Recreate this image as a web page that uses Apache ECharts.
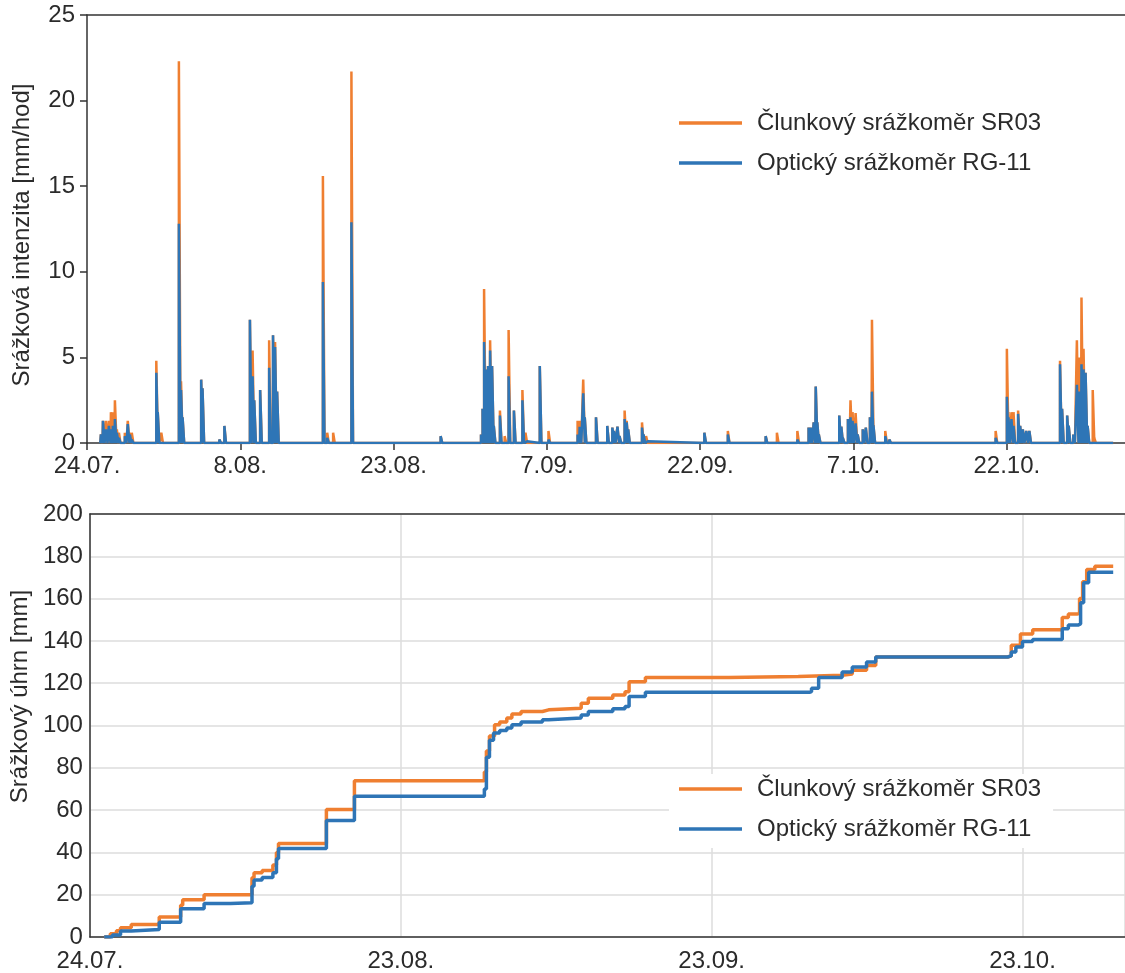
<!DOCTYPE html>
<html><head><meta charset="utf-8">
<script src="https://cdn.jsdelivr.net/npm/echarts@6/dist/echarts.min.js"></script>
<style>html,body{margin:0;padding:0;background:#fff}#c{width:1125px;height:973px}</style>
</head><body><div id="c"></div>
<script>
const seriesNames = ['Člunkový srážkoměr SR03', 'Optický srážkoměr RG-11'];
const topTickLabels = ['24.07.', '8.08.', '23.08.', '7.09.', '22.09.', '7.10.', '22.10.'];
const bottomTickLabels = ['24.07.', '23.08.', '23.09.', '23.10.'];
const topAxisTitle = 'Srážková intenzita [mm/hod]';
const bottomAxisTitle = 'Srážkový úhrn [mm]';

// rain intensity spikes: day offset from 24.07., values [mm/hod]
const spikeDays = [1.36, 1.56, 1.85, 2.14, 2.34, 2.53, 2.73, 2.92, 3.12, 3.70, 3.99, 4.19, 4.38,
  6.78, 6.92, 7.27, 8.99, 9.2, 9.35, 11.17, 11.3, 12.95, 13.44, 15.94, 16.2, 16.36, 16.94, 17.82, 18.2, 18.4, 18.6,
  23.08, 23.5, 24.08, 25.87, 26.3, 34.6, 38.55, 38.7, 38.85, 39.05, 39.24, 39.44, 39.63, 39.8, 40.4, 40.86, 41.25, 41.77,
  42.6, 42.9, 44.3, 45.15, 48.0, 48.2, 48.55, 48.7, 49.8, 50.9, 51.4, 51.55, 51.9, 52.1, 52.6, 52.8, 52.95, 54.3, 54.45, 54.7,
  60.4, 62.7, 66.4, 67.5, 69.5, 70.6, 70.8, 71.1, 71.3, 71.45, 71.6, 73.6, 73.8, 73.95, 74.45, 74.7, 74.9, 75.2, 75.4,
  75.9, 76.2, 76.6, 76.8, 76.95, 78.1, 78.5, 88.9, 90.0, 90.15, 90.45, 90.65, 91.1, 91.3, 91.56, 91.9, 92.2,
  95.2, 95.4, 95.9, 96.05, 96.5, 96.85, 97.1, 97.3, 97.5, 97.7, 97.9, 98.4, 98.55];
const intensitySR03 = [0.5, 1.3, 1.3, 1.3, 1.8, 1.8, 2.5, 0.8, 0.6, 0.6, 1.3, 0.6, 0.6,
  4.8, 1.8, 0.6, 22.3, 3.6, 1.5, 3.7, 3.2, 0.2, 1.0, 7.2, 5.4, 2.5, 3.1, 6.0, 6.3, 5.9, 3.0,
  15.6, 0.6, 0.6, 21.7, 0.1, 0.4, 0.5, 2.0, 9.0, 4.3, 4.5, 6.0, 4.5, 1.0, 1.9, 0.4, 6.6, 1.9,
  3.1, 0.6, 4.5, 0.7, 1.3, 1.3, 3.7, 1.5, 1.5, 1.0, 0.9, 0.7, 0.95, 0.4, 1.9, 1.3, 0.8, 1.2, 0.5, 0.4,
  0.6, 0.7, 0.4, 0.6, 0.7, 0.9, 0.9, 1.2, 3.3, 1.2, 0.5, 1.6, 0.95, 0.3, 1.4, 2.5, 1.8, 1.75, 0.5,
  0.8, 0.9, 1.5, 7.2, 1.0, 0.7, 0.2, 0.7, 5.5, 1.8, 1.8, 1.8, 1.9, 1.0, 0.8, 0.7, 0.7,
  4.8, 2.0, 1.6, 1.0, 0.5, 6.0, 5.0, 8.5, 5.5, 4.1, 1.0, 3.1, 0.3];
const intensityRG11 = [0.5, 1.3, 0.8, 1.0, 0.8, 1.0, 1.4, 0.6, 0.3, 0.4, 1.1, 0.5, 0.2,
  4.1, 1.8, 0, 12.8, 3.1, 1.5, 3.7, 3.2, 0.2, 1.0, 7.2, 3.9, 2.5, 3.1, 4.4, 6.3, 5.6, 3.0,
  9.4, 0.3, 0, 12.9, 0.1, 0.4, 0.5, 2.0, 5.9, 4.3, 4.5, 5.4, 4.5, 1.0, 1.6, 0.1, 3.9, 1.9,
  2.5, 0.1, 4.5, 0.2, 0.5, 0.95, 2.9, 1.5, 1.5, 1.0, 0.9, 0.7, 0.95, 0.4, 1.4, 1.2, 0.8, 0.9, 0.5, 0.1,
  0.6, 0.5, 0.4, 0.1, 0.2, 0.9, 0.9, 1.2, 3.3, 1.2, 0.5, 1.6, 0.95, 0.3, 1.4, 1.5, 1.3, 1.15, 0.5,
  0.8, 0.9, 1.5, 3.0, 1.0, 0.4, 0.2, 0.3, 2.7, 1.5, 1.4, 1.0, 1.7, 1.0, 0.8, 0.7, 0.7,
  4.6, 2.0, 1.6, 1.0, 0.5, 3.4, 3.0, 4.6, 4.3, 4.1, 1.0, 0, 0];
const recordStart = 1.3, recordEnd = 100.4;

// cumulative rainfall [mm]: day offset from 24.07.
const cumDaysSR03 = [1.4, 2.0, 2.6, 3.0, 4.05, 6.8, 8.9, 9.1, 11.2, 15.9, 16.1, 16.9, 17.95, 18.3, 18.5, 23.2, 25.95,
  38.7, 38.9, 39.2, 39.7, 40.2, 40.9, 41.4, 42.3, 44.4, 45.0, 48.2, 48.9, 51.3, 52.5, 52.9, 54.5, 62.7, 69.5,
  73.8, 74.8, 76.2, 77.1, 90.05, 90.4, 91.3, 92.5, 95.4, 96.0, 96.85, 97.1, 97.4, 97.8, 98.6, 100.4];
const cumSR03 = [0, 1.5, 3.0, 4.4, 5.9, 9.5, 15.0, 17.6, 20.0, 28.0, 30.4, 31.4, 34.0, 40.0, 44.2, 60.3, 73.9,
  78, 88, 95, 100.4, 101.6, 103.5, 105.4, 106.6, 107.4, 108.2, 110.5, 112.9, 114.4, 116.0, 120.7, 122.7, 123.2, 123.8,
  124.3, 126.1, 128.4, 132.4, 132.9, 137.9, 143.3, 145.3, 151.1, 152.7, 153.0, 160, 168, 173.8, 175.3, 175.3];
const cumDaysRG11 = [1.4, 2.2, 3.0, 4.05, 6.8, 8.9, 11.2, 13.8, 15.9, 16.1, 16.9, 17.95, 18.3, 18.5, 23.2, 25.95,
  38.7, 38.9, 39.2, 39.6, 40.2, 40.9, 41.4, 42.3, 44.4, 45.0, 48.2, 48.9, 51.3, 52.5, 52.9, 54.5, 70.6, 70.8, 71.5,
  73.8, 74.8, 76.2, 77.1, 90.05, 90.4, 90.85, 91.5, 92.5, 95.4, 96.0, 96.95, 97.2, 97.5, 97.99, 100.4];
const cumRG11 = [0, 1.0, 2.8, 3.6, 7.0, 13.3, 15.8, 16.2, 24.0, 27.0, 28.1, 30.4, 37.0, 41.8, 55.1, 66.5,
  70, 85, 93, 96.5, 97.6, 98.8, 100.4, 101.6, 102.7, 103.5, 105.0, 106.6, 107.9, 109.0, 113.7, 115.7, 116.0, 117.6, 122.7,
  125.3, 127.7, 130.0, 132.4, 132.9, 134.7, 137.1, 139.7, 140.7, 145.7, 147.5, 148.0, 158.0, 167.5, 172.5, 172.5];

const COL_O = '#ef7f31', COL_B = '#2e75b6', TXT = '#2b2b2b', AX = '#333333';
const FS = 24;
const PX_PER_DAY = 10.27, LEFT = 87, RIGHT = -5;
const xMax = (1125 - LEFT - RIGHT) / PX_PER_DAY;

function spikeLine(vals) {
  const w = 0.16, d = [[recordStart, 0]];
  spikeDays.forEach((t, i) => { const v = vals[i]; if (v > 0) d.push([t, 0], [t, v], [t + w, v], [t + w, 0]); });
  d.push([recordEnd, 0]);
  return d;
}
const pairs = (xs, ys) => xs.map((x, i) => [x, ys[i]]);

const axisLine = { show: true, lineStyle: { color: AX, width: 1.5 } };
const lbl = { color: TXT, fontSize: FS, fontFamily: 'Liberation Sans' };
const spine = (gi) => ({ gridIndex: gi, type: 'value', position: 'top', min: 0, max: xMax,
  axisLine, axisTick: { show: false }, axisLabel: { show: false }, splitLine: { show: false } });

const chart = echarts.init(document.getElementById('c'), null, { renderer: 'canvas' });
chart.setOption({
  animation: false,
  backgroundColor: '#fff',
  textStyle: { fontFamily: 'Liberation Sans' },
  grid: [
    { left: LEFT, right: RIGHT, top: 15, height: 428 },
    { left: LEFT, right: RIGHT, top: 514, height: 427 }
  ],
  xAxis: [
    { gridIndex: 0, type: 'value', min: 0, max: xMax, interval: 15,
      axisLine, axisTick: { show: true, length: 7, lineStyle: { color: AX, width: 1.5 } },
      splitLine: { show: false },
      axisLabel: Object.assign({}, lbl, { margin: 11, showMaxLabel: false,
        formatter: v => { const k = Math.round(v / 15); return Math.abs(v - k * 15) < 1e-6 && topTickLabels[k] ? topTickLabels[k] : ''; } }) },
    { gridIndex: 1, type: 'value', min: 0, max: xMax, interval: 30.5,
      axisLine, axisTick: { show: false },
      splitLine: { show: true, lineStyle: { color: '#dcdcdc', width: 1.5 } },
      axisLabel: Object.assign({}, lbl, { margin: 12, showMaxLabel: false,
        formatter: v => { const k = Math.round(v / 30.5); return Math.abs(v - k * 30.5) < 1e-6 && bottomTickLabels[k] ? bottomTickLabels[k] : ''; } }) },
    spine(0), spine(1)
  ],
  yAxis: [
    { gridIndex: 0, type: 'value', min: 0, max: 25, interval: 5,
      axisLine, axisTick: { show: true, length: 7, lineStyle: { color: AX, width: 1.5 } },
      splitLine: { show: false },
      axisLabel: Object.assign({}, lbl, { margin: 12 }),
      name: topAxisTitle, nameLocation: 'middle', nameGap: 53,
      nameTextStyle: Object.assign({}, lbl, { padding: [0, 12, 0, 0] }) },
    { gridIndex: 1, type: 'value', min: 0, max: 200, interval: 20,
      axisLine, axisTick: { show: false },
      splitLine: { show: true, lineStyle: { color: '#dcdcdc', width: 1.5 } },
      axisLabel: Object.assign({}, lbl, { margin: 7 }),
      name: bottomAxisTitle, nameLocation: 'middle', nameGap: 55,
      nameTextStyle: Object.assign({}, lbl, { padding: [0, 0, 0, 58] }) }
  ],
  legend: [
    { orient: 'vertical', left: 679, top: 110, padding: 0, itemGap: 14, itemWidth: 63, itemHeight: 3.5,
      icon: 'rect', data: seriesNames,
      textStyle: Object.assign({}, lbl, { lineHeight: 26, padding: [0, 0, 0, 10] }) },
    { orient: 'vertical', left: 669, top: 774, padding: [2, 12, 6, 10], backgroundColor: '#ffffff',
      itemGap: 14, itemWidth: 63, itemHeight: 3.5, icon: 'rect', data: seriesNames,
      textStyle: Object.assign({}, lbl, { lineHeight: 26, padding: [0, 0, 0, 10] }) }
  ],
  series: [
    { name: seriesNames[0], type: 'line', xAxisIndex: 0, yAxisIndex: 0, data: spikeLine(intensitySR03),
      symbol: 'none', color: COL_O, lineStyle: { color: COL_O, width: 2.5 } },
    { name: seriesNames[1], type: 'line', xAxisIndex: 0, yAxisIndex: 0, data: spikeLine(intensityRG11),
      symbol: 'none', color: COL_B, lineStyle: { color: COL_B, width: 2.5 } },
    { name: seriesNames[0], type: 'line', xAxisIndex: 1, yAxisIndex: 1, data: pairs(cumDaysSR03, cumSR03),
      step: 'end', symbol: 'none', color: COL_O, lineStyle: { color: COL_O, width: 3.5 } },
    { name: seriesNames[1], type: 'line', xAxisIndex: 1, yAxisIndex: 1, data: pairs(cumDaysRG11, cumRG11),
      step: 'end', symbol: 'none', color: COL_B, lineStyle: { color: COL_B, width: 3.5 } }
  ]
});
</script></body></html>
